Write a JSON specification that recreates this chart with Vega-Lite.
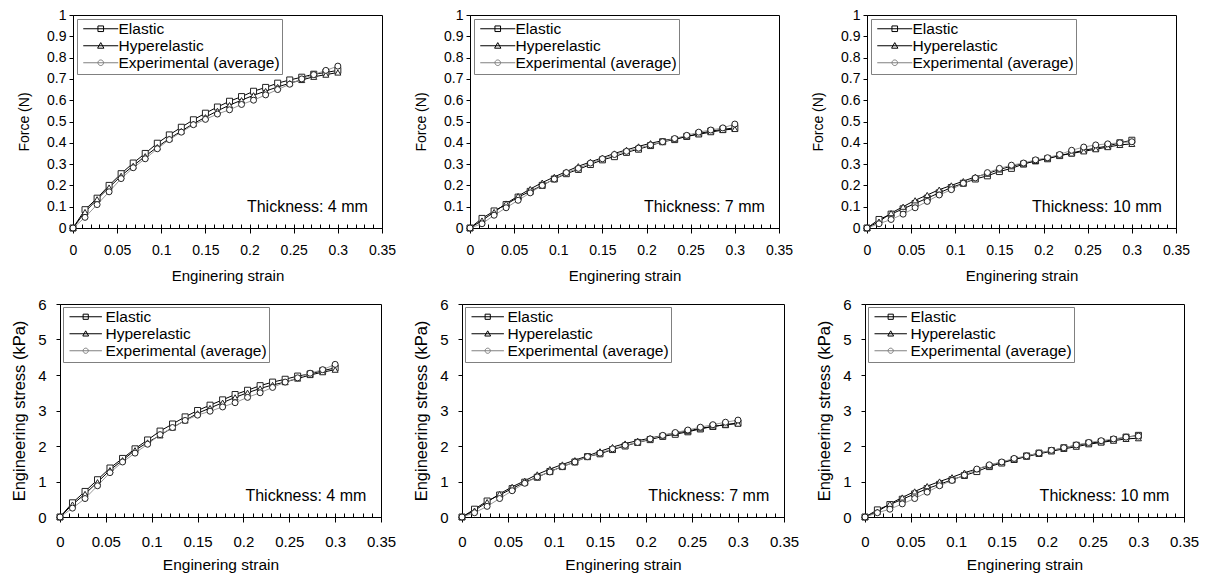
{
"$schema": "https://vega.github.io/schema/vega-lite/v6.json",
"background": "white",
"padding": {"left": 10, "top": 7, "right": 0, "bottom": 0},
"datasets": {
"F4": [
{"series":"Elastic","strain":0,"value":0},{"series":"Elastic","strain":0.0136,"value":0.086},{"series":"Elastic","strain":0.0273,"value":0.14},{"series":"Elastic","strain":0.0409,"value":0.2},{"series":"Elastic","strain":0.0545,"value":0.255},{"series":"Elastic","strain":0.0682,"value":0.305},{"series":"Elastic","strain":0.0818,"value":0.35},{"series":"Elastic","strain":0.0955,"value":0.398},{"series":"Elastic","strain":0.1091,"value":0.437},{"series":"Elastic","strain":0.1227,"value":0.473},{"series":"Elastic","strain":0.1364,"value":0.508},{"series":"Elastic","strain":0.15,"value":0.539},{"series":"Elastic","strain":0.1636,"value":0.568},{"series":"Elastic","strain":0.1773,"value":0.595},{"series":"Elastic","strain":0.1909,"value":0.617},{"series":"Elastic","strain":0.2045,"value":0.642},{"series":"Elastic","strain":0.2182,"value":0.66},{"series":"Elastic","strain":0.2318,"value":0.68},{"series":"Elastic","strain":0.2455,"value":0.695},{"series":"Elastic","strain":0.2591,"value":0.708},{"series":"Elastic","strain":0.2727,"value":0.722},{"series":"Elastic","strain":0.2864,"value":0.73},{"series":"Elastic","strain":0.3,"value":0.74},
{"series":"Hyperelastic","strain":0,"value":0},{"series":"Hyperelastic","strain":0.0136,"value":0.075},{"series":"Hyperelastic","strain":0.0273,"value":0.135},{"series":"Hyperelastic","strain":0.0409,"value":0.19},{"series":"Hyperelastic","strain":0.0545,"value":0.245},{"series":"Hyperelastic","strain":0.0682,"value":0.292},{"series":"Hyperelastic","strain":0.0818,"value":0.337},{"series":"Hyperelastic","strain":0.0955,"value":0.38},{"series":"Hyperelastic","strain":0.1091,"value":0.42},{"series":"Hyperelastic","strain":0.1227,"value":0.455},{"series":"Hyperelastic","strain":0.1364,"value":0.49},{"series":"Hyperelastic","strain":0.15,"value":0.52},{"series":"Hyperelastic","strain":0.1636,"value":0.55},{"series":"Hyperelastic","strain":0.1773,"value":0.577},{"series":"Hyperelastic","strain":0.1909,"value":0.6},{"series":"Hyperelastic","strain":0.2045,"value":0.623},{"series":"Hyperelastic","strain":0.2182,"value":0.643},{"series":"Hyperelastic","strain":0.2318,"value":0.662},{"series":"Hyperelastic","strain":0.2455,"value":0.68},{"series":"Hyperelastic","strain":0.2591,"value":0.695},{"series":"Hyperelastic","strain":0.2727,"value":0.71},{"series":"Hyperelastic","strain":0.2864,"value":0.72},{"series":"Hyperelastic","strain":0.3,"value":0.73},
{"series":"Experimental (average)","strain":0,"value":0},{"series":"Experimental (average)","strain":0.0136,"value":0.05},{"series":"Experimental (average)","strain":0.0273,"value":0.11},{"series":"Experimental (average)","strain":0.0409,"value":0.17},{"series":"Experimental (average)","strain":0.0545,"value":0.232},{"series":"Experimental (average)","strain":0.0682,"value":0.283},{"series":"Experimental (average)","strain":0.0818,"value":0.325},{"series":"Experimental (average)","strain":0.0955,"value":0.372},{"series":"Experimental (average)","strain":0.1091,"value":0.415},{"series":"Experimental (average)","strain":0.1227,"value":0.45},{"series":"Experimental (average)","strain":0.1364,"value":0.485},{"series":"Experimental (average)","strain":0.15,"value":0.51},{"series":"Experimental (average)","strain":0.1636,"value":0.535},{"series":"Experimental (average)","strain":0.1773,"value":0.555},{"series":"Experimental (average)","strain":0.1909,"value":0.58},{"series":"Experimental (average)","strain":0.2045,"value":0.6},{"series":"Experimental (average)","strain":0.2182,"value":0.625},{"series":"Experimental (average)","strain":0.2318,"value":0.65},{"series":"Experimental (average)","strain":0.2455,"value":0.675},{"series":"Experimental (average)","strain":0.2591,"value":0.7},{"series":"Experimental (average)","strain":0.2727,"value":0.72},{"series":"Experimental (average)","strain":0.2864,"value":0.74},{"series":"Experimental (average)","strain":0.3,"value":0.76}
],
"F7": [
{"series":"Elastic","strain":0,"value":0},{"series":"Elastic","strain":0.0136,"value":0.045},{"series":"Elastic","strain":0.0273,"value":0.08},{"series":"Elastic","strain":0.0409,"value":0.11},{"series":"Elastic","strain":0.0545,"value":0.145},{"series":"Elastic","strain":0.0682,"value":0.172},{"series":"Elastic","strain":0.0818,"value":0.2},{"series":"Elastic","strain":0.0955,"value":0.23},{"series":"Elastic","strain":0.1091,"value":0.255},{"series":"Elastic","strain":0.1227,"value":0.275},{"series":"Elastic","strain":0.1364,"value":0.298},{"series":"Elastic","strain":0.15,"value":0.32},{"series":"Elastic","strain":0.1636,"value":0.335},{"series":"Elastic","strain":0.1773,"value":0.355},{"series":"Elastic","strain":0.1909,"value":0.37},{"series":"Elastic","strain":0.2045,"value":0.387},{"series":"Elastic","strain":0.2182,"value":0.405},{"series":"Elastic","strain":0.2318,"value":0.415},{"series":"Elastic","strain":0.2455,"value":0.43},{"series":"Elastic","strain":0.2591,"value":0.443},{"series":"Elastic","strain":0.2727,"value":0.455},{"series":"Elastic","strain":0.2864,"value":0.463},{"series":"Elastic","strain":0.3,"value":0.47},
{"series":"Hyperelastic","strain":0,"value":0},{"series":"Hyperelastic","strain":0.0136,"value":0.035},{"series":"Hyperelastic","strain":0.0273,"value":0.075},{"series":"Hyperelastic","strain":0.0409,"value":0.115},{"series":"Hyperelastic","strain":0.0545,"value":0.15},{"series":"Hyperelastic","strain":0.0682,"value":0.183},{"series":"Hyperelastic","strain":0.0818,"value":0.213},{"series":"Hyperelastic","strain":0.0955,"value":0.24},{"series":"Hyperelastic","strain":0.1091,"value":0.265},{"series":"Hyperelastic","strain":0.1227,"value":0.29},{"series":"Hyperelastic","strain":0.1364,"value":0.31},{"series":"Hyperelastic","strain":0.15,"value":0.33},{"series":"Hyperelastic","strain":0.1636,"value":0.35},{"series":"Hyperelastic","strain":0.1773,"value":0.367},{"series":"Hyperelastic","strain":0.1909,"value":0.383},{"series":"Hyperelastic","strain":0.2045,"value":0.398},{"series":"Hyperelastic","strain":0.2182,"value":0.41},{"series":"Hyperelastic","strain":0.2318,"value":0.42},{"series":"Hyperelastic","strain":0.2455,"value":0.43},{"series":"Hyperelastic","strain":0.2591,"value":0.44},{"series":"Hyperelastic","strain":0.2727,"value":0.45},{"series":"Hyperelastic","strain":0.2864,"value":0.46},{"series":"Hyperelastic","strain":0.3,"value":0.465},
{"series":"Experimental (average)","strain":0,"value":0},{"series":"Experimental (average)","strain":0.0136,"value":0.02},{"series":"Experimental (average)","strain":0.0273,"value":0.06},{"series":"Experimental (average)","strain":0.0409,"value":0.095},{"series":"Experimental (average)","strain":0.0545,"value":0.13},{"series":"Experimental (average)","strain":0.0682,"value":0.165},{"series":"Experimental (average)","strain":0.0818,"value":0.2},{"series":"Experimental (average)","strain":0.0955,"value":0.23},{"series":"Experimental (average)","strain":0.1091,"value":0.26},{"series":"Experimental (average)","strain":0.1227,"value":0.28},{"series":"Experimental (average)","strain":0.1364,"value":0.305},{"series":"Experimental (average)","strain":0.15,"value":0.325},{"series":"Experimental (average)","strain":0.1636,"value":0.345},{"series":"Experimental (average)","strain":0.1773,"value":0.36},{"series":"Experimental (average)","strain":0.1909,"value":0.375},{"series":"Experimental (average)","strain":0.2045,"value":0.39},{"series":"Experimental (average)","strain":0.2182,"value":0.405},{"series":"Experimental (average)","strain":0.2318,"value":0.42},{"series":"Experimental (average)","strain":0.2455,"value":0.435},{"series":"Experimental (average)","strain":0.2591,"value":0.45},{"series":"Experimental (average)","strain":0.2727,"value":0.46},{"series":"Experimental (average)","strain":0.2864,"value":0.47},{"series":"Experimental (average)","strain":0.3,"value":0.488}
],
"F10": [
{"series":"Elastic","strain":0,"value":0},{"series":"Elastic","strain":0.0136,"value":0.04},{"series":"Elastic","strain":0.0273,"value":0.065},{"series":"Elastic","strain":0.0409,"value":0.09},{"series":"Elastic","strain":0.0545,"value":0.115},{"series":"Elastic","strain":0.0682,"value":0.14},{"series":"Elastic","strain":0.0818,"value":0.165},{"series":"Elastic","strain":0.0955,"value":0.19},{"series":"Elastic","strain":0.1091,"value":0.21},{"series":"Elastic","strain":0.1227,"value":0.23},{"series":"Elastic","strain":0.1364,"value":0.245},{"series":"Elastic","strain":0.15,"value":0.265},{"series":"Elastic","strain":0.1636,"value":0.28},{"series":"Elastic","strain":0.1773,"value":0.3},{"series":"Elastic","strain":0.1909,"value":0.315},{"series":"Elastic","strain":0.2045,"value":0.325},{"series":"Elastic","strain":0.2182,"value":0.34},{"series":"Elastic","strain":0.2318,"value":0.352},{"series":"Elastic","strain":0.2455,"value":0.365},{"series":"Elastic","strain":0.2591,"value":0.375},{"series":"Elastic","strain":0.2727,"value":0.385},{"series":"Elastic","strain":0.2864,"value":0.4},{"series":"Elastic","strain":0.3,"value":0.412},
{"series":"Hyperelastic","strain":0,"value":0},{"series":"Hyperelastic","strain":0.0136,"value":0.03},{"series":"Hyperelastic","strain":0.0273,"value":0.07},{"series":"Hyperelastic","strain":0.0409,"value":0.1},{"series":"Hyperelastic","strain":0.0545,"value":0.13},{"series":"Hyperelastic","strain":0.0682,"value":0.155},{"series":"Hyperelastic","strain":0.0818,"value":0.18},{"series":"Hyperelastic","strain":0.0955,"value":0.2},{"series":"Hyperelastic","strain":0.1091,"value":0.22},{"series":"Hyperelastic","strain":0.1227,"value":0.24},{"series":"Hyperelastic","strain":0.1364,"value":0.255},{"series":"Hyperelastic","strain":0.15,"value":0.275},{"series":"Hyperelastic","strain":0.1636,"value":0.29},{"series":"Hyperelastic","strain":0.1773,"value":0.303},{"series":"Hyperelastic","strain":0.1909,"value":0.315},{"series":"Hyperelastic","strain":0.2045,"value":0.328},{"series":"Hyperelastic","strain":0.2182,"value":0.34},{"series":"Hyperelastic","strain":0.2318,"value":0.35},{"series":"Hyperelastic","strain":0.2455,"value":0.36},{"series":"Hyperelastic","strain":0.2591,"value":0.37},{"series":"Hyperelastic","strain":0.2727,"value":0.38},{"series":"Hyperelastic","strain":0.2864,"value":0.39},{"series":"Hyperelastic","strain":0.3,"value":0.395},
{"series":"Experimental (average)","strain":0,"value":0},{"series":"Experimental (average)","strain":0.0136,"value":0.02},{"series":"Experimental (average)","strain":0.0273,"value":0.04},{"series":"Experimental (average)","strain":0.0409,"value":0.065},{"series":"Experimental (average)","strain":0.0545,"value":0.095},{"series":"Experimental (average)","strain":0.0682,"value":0.125},{"series":"Experimental (average)","strain":0.0818,"value":0.155},{"series":"Experimental (average)","strain":0.0955,"value":0.18},{"series":"Experimental (average)","strain":0.1091,"value":0.21},{"series":"Experimental (average)","strain":0.1227,"value":0.235},{"series":"Experimental (average)","strain":0.1364,"value":0.26},{"series":"Experimental (average)","strain":0.15,"value":0.28},{"series":"Experimental (average)","strain":0.1636,"value":0.295},{"series":"Experimental (average)","strain":0.1773,"value":0.305},{"series":"Experimental (average)","strain":0.1909,"value":0.32},{"series":"Experimental (average)","strain":0.2045,"value":0.33},{"series":"Experimental (average)","strain":0.2182,"value":0.345},{"series":"Experimental (average)","strain":0.2318,"value":0.365},{"series":"Experimental (average)","strain":0.2455,"value":0.38},{"series":"Experimental (average)","strain":0.2591,"value":0.39},{"series":"Experimental (average)","strain":0.2727,"value":0.395},{"series":"Experimental (average)","strain":0.2864,"value":0.4},{"series":"Experimental (average)","strain":0.3,"value":0.405}
],
"S4": [
{"series":"Elastic","strain":0,"value":0},{"series":"Elastic","strain":0.0136,"value":0.4},{"series":"Elastic","strain":0.0273,"value":0.72},{"series":"Elastic","strain":0.0409,"value":1.05},{"series":"Elastic","strain":0.0545,"value":1.38},{"series":"Elastic","strain":0.0682,"value":1.65},{"series":"Elastic","strain":0.0818,"value":1.92},{"series":"Elastic","strain":0.0955,"value":2.17},{"series":"Elastic","strain":0.1091,"value":2.42},{"series":"Elastic","strain":0.1227,"value":2.62},{"series":"Elastic","strain":0.1364,"value":2.82},{"series":"Elastic","strain":0.15,"value":3.0},{"series":"Elastic","strain":0.1636,"value":3.15},{"series":"Elastic","strain":0.1773,"value":3.3},{"series":"Elastic","strain":0.1909,"value":3.45},{"series":"Elastic","strain":0.2045,"value":3.57},{"series":"Elastic","strain":0.2182,"value":3.7},{"series":"Elastic","strain":0.2318,"value":3.8},{"series":"Elastic","strain":0.2455,"value":3.88},{"series":"Elastic","strain":0.2591,"value":3.97},{"series":"Elastic","strain":0.2727,"value":4.03},{"series":"Elastic","strain":0.2864,"value":4.12},{"series":"Elastic","strain":0.3,"value":4.2},
{"series":"Hyperelastic","strain":0,"value":0},{"series":"Hyperelastic","strain":0.0136,"value":0.35},{"series":"Hyperelastic","strain":0.0273,"value":0.65},{"series":"Hyperelastic","strain":0.0409,"value":0.98},{"series":"Hyperelastic","strain":0.0545,"value":1.32},{"series":"Hyperelastic","strain":0.0682,"value":1.6},{"series":"Hyperelastic","strain":0.0818,"value":1.88},{"series":"Hyperelastic","strain":0.0955,"value":2.1},{"series":"Hyperelastic","strain":0.1091,"value":2.3},{"series":"Hyperelastic","strain":0.1227,"value":2.52},{"series":"Hyperelastic","strain":0.1364,"value":2.72},{"series":"Hyperelastic","strain":0.15,"value":2.92},{"series":"Hyperelastic","strain":0.1636,"value":3.07},{"series":"Hyperelastic","strain":0.1773,"value":3.22},{"series":"Hyperelastic","strain":0.1909,"value":3.37},{"series":"Hyperelastic","strain":0.2045,"value":3.5},{"series":"Hyperelastic","strain":0.2182,"value":3.62},{"series":"Hyperelastic","strain":0.2318,"value":3.72},{"series":"Hyperelastic","strain":0.2455,"value":3.8},{"series":"Hyperelastic","strain":0.2591,"value":3.9},{"series":"Hyperelastic","strain":0.2727,"value":4.0},{"series":"Hyperelastic","strain":0.2864,"value":4.08},{"series":"Hyperelastic","strain":0.3,"value":4.15},
{"series":"Experimental (average)","strain":0,"value":0},{"series":"Experimental (average)","strain":0.0136,"value":0.25},{"series":"Experimental (average)","strain":0.0273,"value":0.52},{"series":"Experimental (average)","strain":0.0409,"value":0.88},{"series":"Experimental (average)","strain":0.0545,"value":1.25},{"series":"Experimental (average)","strain":0.0682,"value":1.55},{"series":"Experimental (average)","strain":0.0818,"value":1.8},{"series":"Experimental (average)","strain":0.0955,"value":2.05},{"series":"Experimental (average)","strain":0.1091,"value":2.32},{"series":"Experimental (average)","strain":0.1227,"value":2.52},{"series":"Experimental (average)","strain":0.1364,"value":2.72},{"series":"Experimental (average)","strain":0.15,"value":2.87},{"series":"Experimental (average)","strain":0.1636,"value":2.98},{"series":"Experimental (average)","strain":0.1773,"value":3.1},{"series":"Experimental (average)","strain":0.1909,"value":3.22},{"series":"Experimental (average)","strain":0.2045,"value":3.37},{"series":"Experimental (average)","strain":0.2182,"value":3.5},{"series":"Experimental (average)","strain":0.2318,"value":3.65},{"series":"Experimental (average)","strain":0.2455,"value":3.8},{"series":"Experimental (average)","strain":0.2591,"value":3.92},{"series":"Experimental (average)","strain":0.2727,"value":4.05},{"series":"Experimental (average)","strain":0.2864,"value":4.15},{"series":"Experimental (average)","strain":0.3,"value":4.3}
],
"S7": [
{"series":"Elastic","strain":0,"value":0},{"series":"Elastic","strain":0.0136,"value":0.22},{"series":"Elastic","strain":0.0273,"value":0.45},{"series":"Elastic","strain":0.0409,"value":0.62},{"series":"Elastic","strain":0.0545,"value":0.8},{"series":"Elastic","strain":0.0682,"value":0.98},{"series":"Elastic","strain":0.0818,"value":1.12},{"series":"Elastic","strain":0.0955,"value":1.28},{"series":"Elastic","strain":0.1091,"value":1.42},{"series":"Elastic","strain":0.1227,"value":1.55},{"series":"Elastic","strain":0.1364,"value":1.7},{"series":"Elastic","strain":0.15,"value":1.78},{"series":"Elastic","strain":0.1636,"value":1.9},{"series":"Elastic","strain":0.1773,"value":2.0},{"series":"Elastic","strain":0.1909,"value":2.1},{"series":"Elastic","strain":0.2045,"value":2.18},{"series":"Elastic","strain":0.2182,"value":2.27},{"series":"Elastic","strain":0.2318,"value":2.33},{"series":"Elastic","strain":0.2455,"value":2.4},{"series":"Elastic","strain":0.2591,"value":2.48},{"series":"Elastic","strain":0.2727,"value":2.55},{"series":"Elastic","strain":0.2864,"value":2.6},{"series":"Elastic","strain":0.3,"value":2.65},
{"series":"Hyperelastic","strain":0,"value":0},{"series":"Hyperelastic","strain":0.0136,"value":0.18},{"series":"Hyperelastic","strain":0.0273,"value":0.42},{"series":"Hyperelastic","strain":0.0409,"value":0.65},{"series":"Hyperelastic","strain":0.0545,"value":0.85},{"series":"Hyperelastic","strain":0.0682,"value":1.02},{"series":"Hyperelastic","strain":0.0818,"value":1.2},{"series":"Hyperelastic","strain":0.0955,"value":1.35},{"series":"Hyperelastic","strain":0.1091,"value":1.48},{"series":"Hyperelastic","strain":0.1227,"value":1.6},{"series":"Hyperelastic","strain":0.1364,"value":1.72},{"series":"Hyperelastic","strain":0.15,"value":1.85},{"series":"Hyperelastic","strain":0.1636,"value":1.97},{"series":"Hyperelastic","strain":0.1773,"value":2.07},{"series":"Hyperelastic","strain":0.1909,"value":2.15},{"series":"Hyperelastic","strain":0.2045,"value":2.22},{"series":"Hyperelastic","strain":0.2182,"value":2.3},{"series":"Hyperelastic","strain":0.2318,"value":2.37},{"series":"Hyperelastic","strain":0.2455,"value":2.42},{"series":"Hyperelastic","strain":0.2591,"value":2.5},{"series":"Hyperelastic","strain":0.2727,"value":2.55},{"series":"Hyperelastic","strain":0.2864,"value":2.6},{"series":"Hyperelastic","strain":0.3,"value":2.63},
{"series":"Experimental (average)","strain":0,"value":0},{"series":"Experimental (average)","strain":0.0136,"value":0.12},{"series":"Experimental (average)","strain":0.0273,"value":0.3},{"series":"Experimental (average)","strain":0.0409,"value":0.52},{"series":"Experimental (average)","strain":0.0545,"value":0.74},{"series":"Experimental (average)","strain":0.0682,"value":0.95},{"series":"Experimental (average)","strain":0.0818,"value":1.13},{"series":"Experimental (average)","strain":0.0955,"value":1.27},{"series":"Experimental (average)","strain":0.1091,"value":1.42},{"series":"Experimental (average)","strain":0.1227,"value":1.55},{"series":"Experimental (average)","strain":0.1364,"value":1.7},{"series":"Experimental (average)","strain":0.15,"value":1.8},{"series":"Experimental (average)","strain":0.1636,"value":1.92},{"series":"Experimental (average)","strain":0.1773,"value":2.02},{"series":"Experimental (average)","strain":0.1909,"value":2.1},{"series":"Experimental (average)","strain":0.2045,"value":2.2},{"series":"Experimental (average)","strain":0.2182,"value":2.3},{"series":"Experimental (average)","strain":0.2318,"value":2.38},{"series":"Experimental (average)","strain":0.2455,"value":2.45},{"series":"Experimental (average)","strain":0.2591,"value":2.53},{"series":"Experimental (average)","strain":0.2727,"value":2.6},{"series":"Experimental (average)","strain":0.2864,"value":2.67},{"series":"Experimental (average)","strain":0.3,"value":2.73}
],
"S10": [
{"series":"Elastic","strain":0,"value":0},{"series":"Elastic","strain":0.0136,"value":0.2},{"series":"Elastic","strain":0.0273,"value":0.35},{"series":"Elastic","strain":0.0409,"value":0.5},{"series":"Elastic","strain":0.0545,"value":0.65},{"series":"Elastic","strain":0.0682,"value":0.8},{"series":"Elastic","strain":0.0818,"value":0.92},{"series":"Elastic","strain":0.0955,"value":1.05},{"series":"Elastic","strain":0.1091,"value":1.17},{"series":"Elastic","strain":0.1227,"value":1.28},{"series":"Elastic","strain":0.1364,"value":1.42},{"series":"Elastic","strain":0.15,"value":1.52},{"series":"Elastic","strain":0.1636,"value":1.62},{"series":"Elastic","strain":0.1773,"value":1.72},{"series":"Elastic","strain":0.1909,"value":1.8},{"series":"Elastic","strain":0.2045,"value":1.87},{"series":"Elastic","strain":0.2182,"value":1.95},{"series":"Elastic","strain":0.2318,"value":2.02},{"series":"Elastic","strain":0.2455,"value":2.08},{"series":"Elastic","strain":0.2591,"value":2.12},{"series":"Elastic","strain":0.2727,"value":2.18},{"series":"Elastic","strain":0.2864,"value":2.25},{"series":"Elastic","strain":0.3,"value":2.3},
{"series":"Hyperelastic","strain":0,"value":0},{"series":"Hyperelastic","strain":0.0136,"value":0.15},{"series":"Hyperelastic","strain":0.0273,"value":0.37},{"series":"Hyperelastic","strain":0.0409,"value":0.55},{"series":"Hyperelastic","strain":0.0545,"value":0.72},{"series":"Hyperelastic","strain":0.0682,"value":0.87},{"series":"Hyperelastic","strain":0.0818,"value":1.0},{"series":"Hyperelastic","strain":0.0955,"value":1.12},{"series":"Hyperelastic","strain":0.1091,"value":1.25},{"series":"Hyperelastic","strain":0.1227,"value":1.35},{"series":"Hyperelastic","strain":0.1364,"value":1.45},{"series":"Hyperelastic","strain":0.15,"value":1.55},{"series":"Hyperelastic","strain":0.1636,"value":1.62},{"series":"Hyperelastic","strain":0.1773,"value":1.7},{"series":"Hyperelastic","strain":0.1909,"value":1.78},{"series":"Hyperelastic","strain":0.2045,"value":1.85},{"series":"Hyperelastic","strain":0.2182,"value":1.92},{"series":"Hyperelastic","strain":0.2318,"value":1.98},{"series":"Hyperelastic","strain":0.2455,"value":2.05},{"series":"Hyperelastic","strain":0.2591,"value":2.1},{"series":"Hyperelastic","strain":0.2727,"value":2.15},{"series":"Hyperelastic","strain":0.2864,"value":2.2},{"series":"Hyperelastic","strain":0.3,"value":2.22},
{"series":"Experimental (average)","strain":0,"value":0},{"series":"Experimental (average)","strain":0.0136,"value":0.12},{"series":"Experimental (average)","strain":0.0273,"value":0.22},{"series":"Experimental (average)","strain":0.0409,"value":0.37},{"series":"Experimental (average)","strain":0.0545,"value":0.52},{"series":"Experimental (average)","strain":0.0682,"value":0.7},{"series":"Experimental (average)","strain":0.0818,"value":0.88},{"series":"Experimental (average)","strain":0.0955,"value":1.03},{"series":"Experimental (average)","strain":0.1091,"value":1.18},{"series":"Experimental (average)","strain":0.1227,"value":1.35},{"series":"Experimental (average)","strain":0.1364,"value":1.47},{"series":"Experimental (average)","strain":0.15,"value":1.55},{"series":"Experimental (average)","strain":0.1636,"value":1.65},{"series":"Experimental (average)","strain":0.1773,"value":1.72},{"series":"Experimental (average)","strain":0.1909,"value":1.8},{"series":"Experimental (average)","strain":0.2045,"value":1.88},{"series":"Experimental (average)","strain":0.2182,"value":1.95},{"series":"Experimental (average)","strain":0.2318,"value":2.03},{"series":"Experimental (average)","strain":0.2455,"value":2.1},{"series":"Experimental (average)","strain":0.2591,"value":2.15},{"series":"Experimental (average)","strain":0.2727,"value":2.2},{"series":"Experimental (average)","strain":0.2864,"value":2.25},{"series":"Experimental (average)","strain":0.3,"value":2.28}
]
},
"resolve": {"scale": {"color": "independent", "shape": "independent", "stroke": "independent"}, "legend": {"color": "independent", "shape": "independent", "stroke": "independent"}},
"vconcat": [
{"spacing": 0, "resolve": {"scale": {"color": "independent", "shape": "independent", "stroke": "independent"}, "legend": {"color": "independent", "shape": "independent", "stroke": "independent"}}, "hconcat": [
{"width": 7, "height": 10, "view": {"stroke": null}, "data": {"values": []}, "mark": "point", "encoding": {}},
{"spacing": 17, "resolve": {"scale": {"color": "independent", "shape": "independent", "stroke": "independent"}, "legend": {"color": "independent", "shape": "independent", "stroke": "independent"}}, "hconcat": [
{"width":309,"height":213,"data":{"name":"F4"},"resolve":{"axis":{"x":"independent"},"scale":{"shape":"independent","stroke":"independent"}},
"layer":[
{"mark":{"type":"line","strokeWidth":1},"encoding":{
"x":{"field":"strain","type":"quantitative","scale":{"domain":[0,0.35]},"axis":{"title":"Enginering strain","values":[0,0.05,0.1,0.15,0.2,0.25,0.3,0.35],"format":"~g","tickSize":5,"labelPadding":10,"titlePadding":11,"labelFontSize":14,"titleFontSize":15,"labelOverlap":false}},
"y":{"field":"value","type":"quantitative","scale":{"domain":[0,1]},"axis":{"title":"Force (N)","values":[0,0.1,0.2,0.3,0.4,0.5,0.6,0.7,0.8,0.9,1],"format":"~g","tickSize":4,"labelPadding":3,"titlePadding":15,"labelFontSize":14,"titleFontSize":14,"labelOverlap":false}},
"color":{"field":"series","type":"nominal","scale":{"domain":["Experimental (average)","Elastic","Hyperelastic"],"range":["#999999","#000000","#000000"]},"legend":null}}},
{"mark":{"type":"point","filled":true,"fill":"#ffffff","stroke":"#222222","opacity":1,"strokeWidth":1,"size":36},"encoding":{
"x":{"field":"strain","type":"quantitative","axis":{"orient":"bottom","values":[0,0.01,0.02,0.03,0.04,0.05,0.06,0.07,0.08,0.09,0.1,0.11,0.12,0.13,0.14,0.15,0.16,0.17,0.18,0.19,0.2,0.21,0.22,0.23,0.24,0.25,0.26,0.27,0.28,0.29,0.3,0.31,0.32,0.33,0.34,0.35],"labels":false,"domain":false,"tickSize":-4,"title":null}},
"y":{"field":"value","type":"quantitative","axis":{"title":"Force (N)","values":[0,0.1,0.2,0.3,0.4,0.5,0.6,0.7,0.8,0.9,1],"format":"~g","tickSize":4,"labelPadding":3,"titlePadding":15,"labelFontSize":14,"titleFontSize":14,"labelOverlap":false}},
"shape":{"field":"series","type":"nominal","scale":{"domain":["Hyperelastic","Elastic","Experimental (average)"],"range":["triangle-up","square","circle"]},"legend":null}}},
{"mark":{"type":"point","filled":true,"fill":"#ffffff","opacity":0,"strokeWidth":1,"size":49},"encoding":{
"x":{"field":"strain","type":"quantitative","axis":null},
"y":{"field":"value","type":"quantitative","axis":{"title":"Force (N)","values":[0,0.1,0.2,0.3,0.4,0.5,0.6,0.7,0.8,0.9,1],"format":"~g","tickSize":4,"labelPadding":3,"titlePadding":15,"labelFontSize":14,"titleFontSize":14,"labelOverlap":false}},
"shape":{"field":"series","type":"nominal","scale":{"domain":["Elastic","Hyperelastic","Experimental (average)"],"range":["M-1,0H9M3.2,-0.8H4.8V0.8H3.2Z","M-1,0H9M4,-0.9L4.9,0.7H3.1Z","M-1,0H9M4.8,0A0.8,0.8,0,1,1,3.2,0A0.8,0.8,0,1,1,4.8,0Z"]},
"legend":{"orient":"top-left","offset":4,"title":null,"strokeColor":"#808080","fillColor":"#ffffff","padding":2,"rowPadding":0,"labelFontSize":15.5,"labelLimit":400,"labelOffset":24,"symbolSize":49,"symbolStrokeWidth":1,"symbolOpacity":1,"symbolFillColor":"#ffffff"}},
"stroke":{"field":"series","type":"nominal","scale":{"domain":["Elastic","Hyperelastic","Experimental (average)"],"range":["#000000","#000000","#808080"]},
"legend":{"orient":"top-left","offset":4,"title":null,"strokeColor":"#808080","fillColor":"#ffffff","padding":2,"rowPadding":0,"labelFontSize":15.5,"labelLimit":400,"labelOffset":24,"symbolSize":49,"symbolStrokeWidth":1,"symbolOpacity":1,"symbolFillColor":"#ffffff"}}}},
{"data":{"values":[{}]},"mark":{"type":"text","align":"right","baseline":"middle","fontSize":16},"encoding":{"x":{"datum":0.334,"type":"quantitative","axis":null},"y":{"datum":0.1,"type":"quantitative","axis":{"title":"Force (N)","values":[0,0.1,0.2,0.3,0.4,0.5,0.6,0.7,0.8,0.9,1],"format":"~g","tickSize":4,"labelPadding":3,"titlePadding":15,"labelFontSize":14,"titleFontSize":14,"labelOverlap":false}},"text":{"value":"Thickness: 4 mm"}}}
]},
{"width":309,"height":213,"data":{"name":"F7"},"resolve":{"axis":{"x":"independent"},"scale":{"shape":"independent","stroke":"independent"}},
"layer":[
{"mark":{"type":"line","strokeWidth":1},"encoding":{
"x":{"field":"strain","type":"quantitative","scale":{"domain":[0,0.35]},"axis":{"title":"Enginering strain","values":[0,0.05,0.1,0.15,0.2,0.25,0.3,0.35],"format":"~g","tickSize":5,"labelPadding":10,"titlePadding":11,"labelFontSize":14,"titleFontSize":15,"labelOverlap":false}},
"y":{"field":"value","type":"quantitative","scale":{"domain":[0,1]},"axis":{"title":"Force (N)","values":[0,0.1,0.2,0.3,0.4,0.5,0.6,0.7,0.8,0.9,1],"format":"~g","tickSize":4,"labelPadding":3,"titlePadding":15,"labelFontSize":14,"titleFontSize":14,"labelOverlap":false}},
"color":{"field":"series","type":"nominal","scale":{"domain":["Experimental (average)","Elastic","Hyperelastic"],"range":["#999999","#000000","#000000"]},"legend":null}}},
{"mark":{"type":"point","filled":true,"fill":"#ffffff","stroke":"#222222","opacity":1,"strokeWidth":1,"size":36},"encoding":{
"x":{"field":"strain","type":"quantitative","axis":{"orient":"bottom","values":[0,0.01,0.02,0.03,0.04,0.05,0.06,0.07,0.08,0.09,0.1,0.11,0.12,0.13,0.14,0.15,0.16,0.17,0.18,0.19,0.2,0.21,0.22,0.23,0.24,0.25,0.26,0.27,0.28,0.29,0.3,0.31,0.32,0.33,0.34,0.35],"labels":false,"domain":false,"tickSize":-4,"title":null}},
"y":{"field":"value","type":"quantitative","axis":{"title":"Force (N)","values":[0,0.1,0.2,0.3,0.4,0.5,0.6,0.7,0.8,0.9,1],"format":"~g","tickSize":4,"labelPadding":3,"titlePadding":15,"labelFontSize":14,"titleFontSize":14,"labelOverlap":false}},
"shape":{"field":"series","type":"nominal","scale":{"domain":["Hyperelastic","Elastic","Experimental (average)"],"range":["triangle-up","square","circle"]},"legend":null}}},
{"mark":{"type":"point","filled":true,"fill":"#ffffff","opacity":0,"strokeWidth":1,"size":49},"encoding":{
"x":{"field":"strain","type":"quantitative","axis":null},
"y":{"field":"value","type":"quantitative","axis":{"title":"Force (N)","values":[0,0.1,0.2,0.3,0.4,0.5,0.6,0.7,0.8,0.9,1],"format":"~g","tickSize":4,"labelPadding":3,"titlePadding":15,"labelFontSize":14,"titleFontSize":14,"labelOverlap":false}},
"shape":{"field":"series","type":"nominal","scale":{"domain":["Elastic","Hyperelastic","Experimental (average)"],"range":["M-1,0H9M3.2,-0.8H4.8V0.8H3.2Z","M-1,0H9M4,-0.9L4.9,0.7H3.1Z","M-1,0H9M4.8,0A0.8,0.8,0,1,1,3.2,0A0.8,0.8,0,1,1,4.8,0Z"]},
"legend":{"orient":"top-left","offset":4,"title":null,"strokeColor":"#808080","fillColor":"#ffffff","padding":2,"rowPadding":0,"labelFontSize":15.5,"labelLimit":400,"labelOffset":24,"symbolSize":49,"symbolStrokeWidth":1,"symbolOpacity":1,"symbolFillColor":"#ffffff"}},
"stroke":{"field":"series","type":"nominal","scale":{"domain":["Elastic","Hyperelastic","Experimental (average)"],"range":["#000000","#000000","#808080"]},
"legend":{"orient":"top-left","offset":4,"title":null,"strokeColor":"#808080","fillColor":"#ffffff","padding":2,"rowPadding":0,"labelFontSize":15.5,"labelLimit":400,"labelOffset":24,"symbolSize":49,"symbolStrokeWidth":1,"symbolOpacity":1,"symbolFillColor":"#ffffff"}}}},
{"data":{"values":[{}]},"mark":{"type":"text","align":"right","baseline":"middle","fontSize":16},"encoding":{"x":{"datum":0.334,"type":"quantitative","axis":null},"y":{"datum":0.1,"type":"quantitative","axis":{"title":"Force (N)","values":[0,0.1,0.2,0.3,0.4,0.5,0.6,0.7,0.8,0.9,1],"format":"~g","tickSize":4,"labelPadding":3,"titlePadding":15,"labelFontSize":14,"titleFontSize":14,"labelOverlap":false}},"text":{"value":"Thickness: 7 mm"}}}
]},
{"width":309,"height":213,"data":{"name":"F10"},"resolve":{"axis":{"x":"independent"},"scale":{"shape":"independent","stroke":"independent"}},
"layer":[
{"mark":{"type":"line","strokeWidth":1},"encoding":{
"x":{"field":"strain","type":"quantitative","scale":{"domain":[0,0.35]},"axis":{"title":"Enginering strain","values":[0,0.05,0.1,0.15,0.2,0.25,0.3,0.35],"format":"~g","tickSize":5,"labelPadding":10,"titlePadding":11,"labelFontSize":14,"titleFontSize":15,"labelOverlap":false}},
"y":{"field":"value","type":"quantitative","scale":{"domain":[0,1]},"axis":{"title":"Force (N)","values":[0,0.1,0.2,0.3,0.4,0.5,0.6,0.7,0.8,0.9,1],"format":"~g","tickSize":4,"labelPadding":3,"titlePadding":15,"labelFontSize":14,"titleFontSize":14,"labelOverlap":false}},
"color":{"field":"series","type":"nominal","scale":{"domain":["Experimental (average)","Elastic","Hyperelastic"],"range":["#999999","#000000","#000000"]},"legend":null}}},
{"mark":{"type":"point","filled":true,"fill":"#ffffff","stroke":"#222222","opacity":1,"strokeWidth":1,"size":36},"encoding":{
"x":{"field":"strain","type":"quantitative","axis":{"orient":"bottom","values":[0,0.01,0.02,0.03,0.04,0.05,0.06,0.07,0.08,0.09,0.1,0.11,0.12,0.13,0.14,0.15,0.16,0.17,0.18,0.19,0.2,0.21,0.22,0.23,0.24,0.25,0.26,0.27,0.28,0.29,0.3,0.31,0.32,0.33,0.34,0.35],"labels":false,"domain":false,"tickSize":-4,"title":null}},
"y":{"field":"value","type":"quantitative","axis":{"title":"Force (N)","values":[0,0.1,0.2,0.3,0.4,0.5,0.6,0.7,0.8,0.9,1],"format":"~g","tickSize":4,"labelPadding":3,"titlePadding":15,"labelFontSize":14,"titleFontSize":14,"labelOverlap":false}},
"shape":{"field":"series","type":"nominal","scale":{"domain":["Hyperelastic","Elastic","Experimental (average)"],"range":["triangle-up","square","circle"]},"legend":null}}},
{"mark":{"type":"point","filled":true,"fill":"#ffffff","opacity":0,"strokeWidth":1,"size":49},"encoding":{
"x":{"field":"strain","type":"quantitative","axis":null},
"y":{"field":"value","type":"quantitative","axis":{"title":"Force (N)","values":[0,0.1,0.2,0.3,0.4,0.5,0.6,0.7,0.8,0.9,1],"format":"~g","tickSize":4,"labelPadding":3,"titlePadding":15,"labelFontSize":14,"titleFontSize":14,"labelOverlap":false}},
"shape":{"field":"series","type":"nominal","scale":{"domain":["Elastic","Hyperelastic","Experimental (average)"],"range":["M-1,0H9M3.2,-0.8H4.8V0.8H3.2Z","M-1,0H9M4,-0.9L4.9,0.7H3.1Z","M-1,0H9M4.8,0A0.8,0.8,0,1,1,3.2,0A0.8,0.8,0,1,1,4.8,0Z"]},
"legend":{"orient":"top-left","offset":4,"title":null,"strokeColor":"#808080","fillColor":"#ffffff","padding":2,"rowPadding":0,"labelFontSize":15.5,"labelLimit":400,"labelOffset":24,"symbolSize":49,"symbolStrokeWidth":1,"symbolOpacity":1,"symbolFillColor":"#ffffff"}},
"stroke":{"field":"series","type":"nominal","scale":{"domain":["Elastic","Hyperelastic","Experimental (average)"],"range":["#000000","#000000","#808080"]},
"legend":{"orient":"top-left","offset":4,"title":null,"strokeColor":"#808080","fillColor":"#ffffff","padding":2,"rowPadding":0,"labelFontSize":15.5,"labelLimit":400,"labelOffset":24,"symbolSize":49,"symbolStrokeWidth":1,"symbolOpacity":1,"symbolFillColor":"#ffffff"}}}},
{"data":{"values":[{}]},"mark":{"type":"text","align":"right","baseline":"middle","fontSize":16},"encoding":{"x":{"datum":0.334,"type":"quantitative","axis":null},"y":{"datum":0.1,"type":"quantitative","axis":{"title":"Force (N)","values":[0,0.1,0.2,0.3,0.4,0.5,0.6,0.7,0.8,0.9,1],"format":"~g","tickSize":4,"labelPadding":3,"titlePadding":15,"labelFontSize":14,"titleFontSize":14,"labelOverlap":false}},"text":{"value":"Thickness: 10 mm"}}}
]}
]}
]},
{"spacing": 0, "resolve": {"scale": {"color": "independent", "shape": "independent", "stroke": "independent"}, "legend": {"color": "independent", "shape": "independent", "stroke": "independent"}}, "hconcat": [
{"width": 1, "height": 10, "view": {"stroke": null}, "data": {"values": []}, "mark": "point", "encoding": {}},
{"spacing": 16, "resolve": {"scale": {"color": "independent", "shape": "independent", "stroke": "independent"}, "legend": {"color": "independent", "shape": "independent", "stroke": "independent"}}, "hconcat": [
{"width":321,"height":213,"data":{"name":"S4"},"resolve":{"axis":{"x":"independent"},"scale":{"shape":"independent","stroke":"independent"}},
"layer":[
{"mark":{"type":"line","strokeWidth":1},"encoding":{
"x":{"field":"strain","type":"quantitative","scale":{"domain":[0,0.35]},"axis":{"title":"Enginering strain","values":[0,0.05,0.1,0.15,0.2,0.25,0.3,0.35],"format":"~g","tickSize":5,"labelPadding":12,"titlePadding":8,"labelFontSize":15,"titleFontSize":15.5,"labelOverlap":false}},
"y":{"field":"value","type":"quantitative","scale":{"domain":[0,6]},"axis":{"title":"Engineering stress (kPa)","values":[0,1,2,3,4,5,6],"format":"~g","tickSize":4,"labelPadding":10,"titlePadding":10,"labelFontSize":15,"titleFontSize":16.5,"labelOverlap":false}},
"color":{"field":"series","type":"nominal","scale":{"domain":["Experimental (average)","Elastic","Hyperelastic"],"range":["#999999","#000000","#000000"]},"legend":null}}},
{"mark":{"type":"point","filled":true,"fill":"#ffffff","stroke":"#222222","opacity":1,"strokeWidth":1,"size":36},"encoding":{
"x":{"field":"strain","type":"quantitative","axis":{"orient":"bottom","values":[0,0.01,0.02,0.03,0.04,0.05,0.06,0.07,0.08,0.09,0.1,0.11,0.12,0.13,0.14,0.15,0.16,0.17,0.18,0.19,0.2,0.21,0.22,0.23,0.24,0.25,0.26,0.27,0.28,0.29,0.3,0.31,0.32,0.33,0.34,0.35],"labels":false,"domain":false,"tickSize":-4,"title":null}},
"y":{"field":"value","type":"quantitative","axis":{"title":"Engineering stress (kPa)","values":[0,1,2,3,4,5,6],"format":"~g","tickSize":4,"labelPadding":10,"titlePadding":10,"labelFontSize":15,"titleFontSize":16.5,"labelOverlap":false}},
"shape":{"field":"series","type":"nominal","scale":{"domain":["Hyperelastic","Elastic","Experimental (average)"],"range":["triangle-up","square","circle"]},"legend":null}}},
{"mark":{"type":"point","filled":true,"fill":"#ffffff","opacity":0,"strokeWidth":1,"size":42},"encoding":{
"x":{"field":"strain","type":"quantitative","axis":null},
"y":{"field":"value","type":"quantitative","axis":{"title":"Engineering stress (kPa)","values":[0,1,2,3,4,5,6],"format":"~g","tickSize":4,"labelPadding":10,"titlePadding":10,"labelFontSize":15,"titleFontSize":16.5,"labelOverlap":false}},
"shape":{"field":"series","type":"nominal","scale":{"domain":["Elastic","Hyperelastic","Experimental (average)"],"range":["M-1,0H9M3.2,-0.8H4.8V0.8H3.2Z","M-1,0H9M4,-0.9L4.9,0.7H3.1Z","M-1,0H9M4.8,0A0.8,0.8,0,1,1,3.2,0A0.8,0.8,0,1,1,4.8,0Z"]},
"legend":{"orient":"top-left","offset":3,"title":null,"strokeColor":"#808080","fillColor":"#ffffff","padding":2,"rowPadding":0,"labelFontSize":15.5,"labelLimit":400,"labelOffset":25,"symbolSize":42,"symbolStrokeWidth":1,"symbolOpacity":1,"symbolFillColor":"#ffffff"}},
"stroke":{"field":"series","type":"nominal","scale":{"domain":["Elastic","Hyperelastic","Experimental (average)"],"range":["#000000","#000000","#808080"]},
"legend":{"orient":"top-left","offset":3,"title":null,"strokeColor":"#808080","fillColor":"#ffffff","padding":2,"rowPadding":0,"labelFontSize":15.5,"labelLimit":400,"labelOffset":25,"symbolSize":42,"symbolStrokeWidth":1,"symbolOpacity":1,"symbolFillColor":"#ffffff"}}}},
{"data":{"values":[{}]},"mark":{"type":"text","align":"right","baseline":"middle","fontSize":16},"encoding":{"x":{"datum":0.334,"type":"quantitative","axis":null},"y":{"datum":0.6,"type":"quantitative","axis":{"title":"Engineering stress (kPa)","values":[0,1,2,3,4,5,6],"format":"~g","tickSize":4,"labelPadding":10,"titlePadding":10,"labelFontSize":15,"titleFontSize":16.5,"labelOverlap":false}},"text":{"value":"Thickness: 4 mm"}}}
]},
{"width":322,"height":213,"data":{"name":"S7"},"resolve":{"axis":{"x":"independent"},"scale":{"shape":"independent","stroke":"independent"}},
"layer":[
{"mark":{"type":"line","strokeWidth":1},"encoding":{
"x":{"field":"strain","type":"quantitative","scale":{"domain":[0,0.35]},"axis":{"title":"Enginering strain","values":[0,0.05,0.1,0.15,0.2,0.25,0.3,0.35],"format":"~g","tickSize":5,"labelPadding":12,"titlePadding":8,"labelFontSize":15,"titleFontSize":15.5,"labelOverlap":false}},
"y":{"field":"value","type":"quantitative","scale":{"domain":[0,6]},"axis":{"title":"Engineering stress (kPa)","values":[0,1,2,3,4,5,6],"format":"~g","tickSize":4,"labelPadding":10,"titlePadding":10,"labelFontSize":15,"titleFontSize":16.5,"labelOverlap":false}},
"color":{"field":"series","type":"nominal","scale":{"domain":["Experimental (average)","Elastic","Hyperelastic"],"range":["#999999","#000000","#000000"]},"legend":null}}},
{"mark":{"type":"point","filled":true,"fill":"#ffffff","stroke":"#222222","opacity":1,"strokeWidth":1,"size":36},"encoding":{
"x":{"field":"strain","type":"quantitative","axis":{"orient":"bottom","values":[0,0.01,0.02,0.03,0.04,0.05,0.06,0.07,0.08,0.09,0.1,0.11,0.12,0.13,0.14,0.15,0.16,0.17,0.18,0.19,0.2,0.21,0.22,0.23,0.24,0.25,0.26,0.27,0.28,0.29,0.3,0.31,0.32,0.33,0.34,0.35],"labels":false,"domain":false,"tickSize":-4,"title":null}},
"y":{"field":"value","type":"quantitative","axis":{"title":"Engineering stress (kPa)","values":[0,1,2,3,4,5,6],"format":"~g","tickSize":4,"labelPadding":10,"titlePadding":10,"labelFontSize":15,"titleFontSize":16.5,"labelOverlap":false}},
"shape":{"field":"series","type":"nominal","scale":{"domain":["Hyperelastic","Elastic","Experimental (average)"],"range":["triangle-up","square","circle"]},"legend":null}}},
{"mark":{"type":"point","filled":true,"fill":"#ffffff","opacity":0,"strokeWidth":1,"size":42},"encoding":{
"x":{"field":"strain","type":"quantitative","axis":null},
"y":{"field":"value","type":"quantitative","axis":{"title":"Engineering stress (kPa)","values":[0,1,2,3,4,5,6],"format":"~g","tickSize":4,"labelPadding":10,"titlePadding":10,"labelFontSize":15,"titleFontSize":16.5,"labelOverlap":false}},
"shape":{"field":"series","type":"nominal","scale":{"domain":["Elastic","Hyperelastic","Experimental (average)"],"range":["M-1,0H9M3.2,-0.8H4.8V0.8H3.2Z","M-1,0H9M4,-0.9L4.9,0.7H3.1Z","M-1,0H9M4.8,0A0.8,0.8,0,1,1,3.2,0A0.8,0.8,0,1,1,4.8,0Z"]},
"legend":{"orient":"top-left","offset":3,"title":null,"strokeColor":"#808080","fillColor":"#ffffff","padding":2,"rowPadding":0,"labelFontSize":15.5,"labelLimit":400,"labelOffset":25,"symbolSize":42,"symbolStrokeWidth":1,"symbolOpacity":1,"symbolFillColor":"#ffffff"}},
"stroke":{"field":"series","type":"nominal","scale":{"domain":["Elastic","Hyperelastic","Experimental (average)"],"range":["#000000","#000000","#808080"]},
"legend":{"orient":"top-left","offset":3,"title":null,"strokeColor":"#808080","fillColor":"#ffffff","padding":2,"rowPadding":0,"labelFontSize":15.5,"labelLimit":400,"labelOffset":25,"symbolSize":42,"symbolStrokeWidth":1,"symbolOpacity":1,"symbolFillColor":"#ffffff"}}}},
{"data":{"values":[{}]},"mark":{"type":"text","align":"right","baseline":"middle","fontSize":16},"encoding":{"x":{"datum":0.334,"type":"quantitative","axis":null},"y":{"datum":0.6,"type":"quantitative","axis":{"title":"Engineering stress (kPa)","values":[0,1,2,3,4,5,6],"format":"~g","tickSize":4,"labelPadding":10,"titlePadding":10,"labelFontSize":15,"titleFontSize":16.5,"labelOverlap":false}},"text":{"value":"Thickness: 7 mm"}}}
]},
{"width":319,"height":213,"data":{"name":"S10"},"resolve":{"axis":{"x":"independent"},"scale":{"shape":"independent","stroke":"independent"}},
"layer":[
{"mark":{"type":"line","strokeWidth":1},"encoding":{
"x":{"field":"strain","type":"quantitative","scale":{"domain":[0,0.35]},"axis":{"title":"Enginering strain","values":[0,0.05,0.1,0.15,0.2,0.25,0.3,0.35],"format":"~g","tickSize":5,"labelPadding":12,"titlePadding":8,"labelFontSize":15,"titleFontSize":15.5,"labelOverlap":false}},
"y":{"field":"value","type":"quantitative","scale":{"domain":[0,6]},"axis":{"title":"Engineering stress (kPa)","values":[0,1,2,3,4,5,6],"format":"~g","tickSize":4,"labelPadding":10,"titlePadding":10,"labelFontSize":15,"titleFontSize":16.5,"labelOverlap":false}},
"color":{"field":"series","type":"nominal","scale":{"domain":["Experimental (average)","Elastic","Hyperelastic"],"range":["#999999","#000000","#000000"]},"legend":null}}},
{"mark":{"type":"point","filled":true,"fill":"#ffffff","stroke":"#222222","opacity":1,"strokeWidth":1,"size":36},"encoding":{
"x":{"field":"strain","type":"quantitative","axis":{"orient":"bottom","values":[0,0.01,0.02,0.03,0.04,0.05,0.06,0.07,0.08,0.09,0.1,0.11,0.12,0.13,0.14,0.15,0.16,0.17,0.18,0.19,0.2,0.21,0.22,0.23,0.24,0.25,0.26,0.27,0.28,0.29,0.3,0.31,0.32,0.33,0.34,0.35],"labels":false,"domain":false,"tickSize":-4,"title":null}},
"y":{"field":"value","type":"quantitative","axis":{"title":"Engineering stress (kPa)","values":[0,1,2,3,4,5,6],"format":"~g","tickSize":4,"labelPadding":10,"titlePadding":10,"labelFontSize":15,"titleFontSize":16.5,"labelOverlap":false}},
"shape":{"field":"series","type":"nominal","scale":{"domain":["Hyperelastic","Elastic","Experimental (average)"],"range":["triangle-up","square","circle"]},"legend":null}}},
{"mark":{"type":"point","filled":true,"fill":"#ffffff","opacity":0,"strokeWidth":1,"size":42},"encoding":{
"x":{"field":"strain","type":"quantitative","axis":null},
"y":{"field":"value","type":"quantitative","axis":{"title":"Engineering stress (kPa)","values":[0,1,2,3,4,5,6],"format":"~g","tickSize":4,"labelPadding":10,"titlePadding":10,"labelFontSize":15,"titleFontSize":16.5,"labelOverlap":false}},
"shape":{"field":"series","type":"nominal","scale":{"domain":["Elastic","Hyperelastic","Experimental (average)"],"range":["M-1,0H9M3.2,-0.8H4.8V0.8H3.2Z","M-1,0H9M4,-0.9L4.9,0.7H3.1Z","M-1,0H9M4.8,0A0.8,0.8,0,1,1,3.2,0A0.8,0.8,0,1,1,4.8,0Z"]},
"legend":{"orient":"top-left","offset":3,"title":null,"strokeColor":"#808080","fillColor":"#ffffff","padding":2,"rowPadding":0,"labelFontSize":15.5,"labelLimit":400,"labelOffset":25,"symbolSize":42,"symbolStrokeWidth":1,"symbolOpacity":1,"symbolFillColor":"#ffffff"}},
"stroke":{"field":"series","type":"nominal","scale":{"domain":["Elastic","Hyperelastic","Experimental (average)"],"range":["#000000","#000000","#808080"]},
"legend":{"orient":"top-left","offset":3,"title":null,"strokeColor":"#808080","fillColor":"#ffffff","padding":2,"rowPadding":0,"labelFontSize":15.5,"labelLimit":400,"labelOffset":25,"symbolSize":42,"symbolStrokeWidth":1,"symbolOpacity":1,"symbolFillColor":"#ffffff"}}}},
{"data":{"values":[{}]},"mark":{"type":"text","align":"right","baseline":"middle","fontSize":16},"encoding":{"x":{"datum":0.334,"type":"quantitative","axis":null},"y":{"datum":0.6,"type":"quantitative","axis":{"title":"Engineering stress (kPa)","values":[0,1,2,3,4,5,6],"format":"~g","tickSize":4,"labelPadding":10,"titlePadding":10,"labelFontSize":15,"titleFontSize":16.5,"labelOverlap":false}},"text":{"value":"Thickness: 10 mm"}}}
]}
]}
]}
],
"spacing": 12,
"config": {
"font": "Liberation Sans",
"view": {"stroke": "#000000", "strokeWidth": 1},
"axis": {"domainColor": "#000000", "tickColor": "#000000", "labelColor": "#000000", "titleColor": "#000000", "labelFontSize": 14, "titleFontSize": 14, "titleFontWeight": "normal", "labelFont": "Liberation Sans", "titleFont": "Liberation Sans", "grid": false, "labelFlush": false, "labelOverlap": false, "domainWidth": 1, "tickWidth": 1},
"legend": {"labelFont": "Liberation Sans", "labelColor": "#000000"},
"text": {"font": "Liberation Sans", "color": "#000000"}
}
}
